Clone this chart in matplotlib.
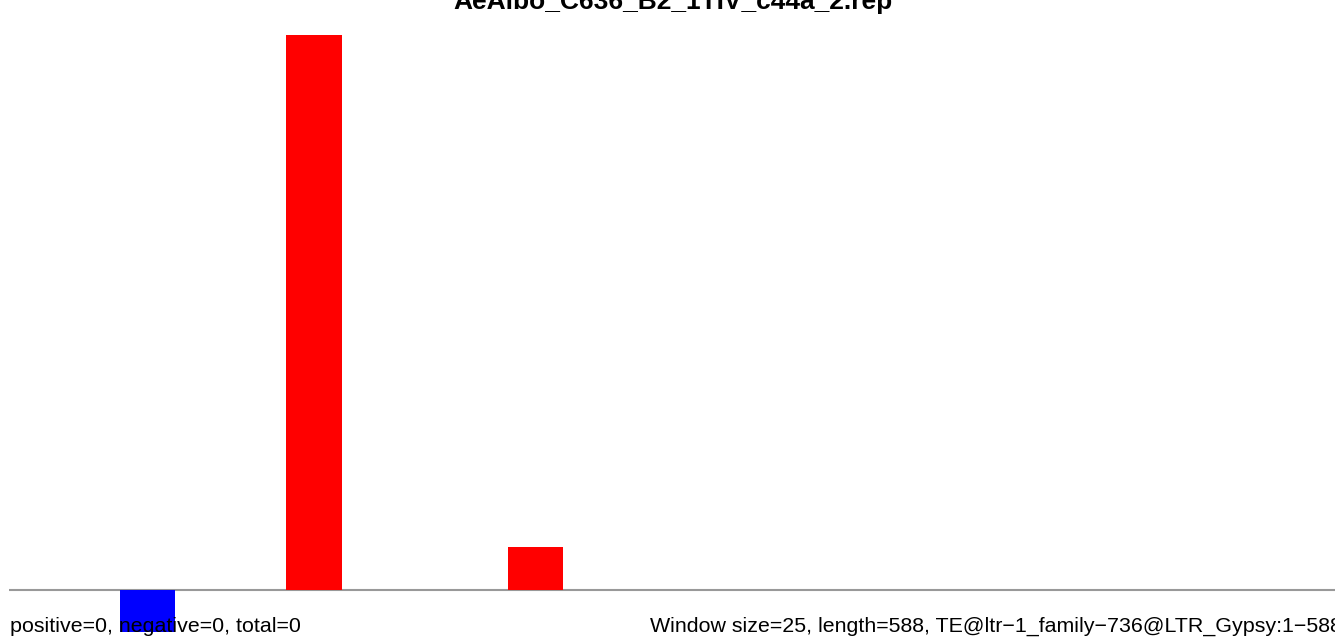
import numpy as np
import matplotlib.pyplot as plt

plt.rcParams['font.family'] = ['Liberation Sans', 'DejaVu Sans']

title = "AeAlbo_C636_B2_1TIV_c44a_2.rep"
left_note = "positive=0, negative=0, total=0"
right_note = "Window size=25, length=588, TE@ltr\u22121_family\u2212736@LTR_Gypsy:1\u2212588"

# one value per 25bp window (588 / 25 -> 24 windows)
window_values = [0, 0, -1, 0, 0, 13, 0, 0, 0, 1, 0, 0,
                 0, 0, 0, 0, 0, 0, 0, 0, 0, 0, 0, 0]

W, H = 1335, 639
fig = plt.figure(figsize=(W / 100, H / 100), dpi=100)

# axes placed in pixel coordinates of the reference
x0, x1 = 9, 9 + 24 * 55.43
y_top, y_bot = 35, 632.2
ax = fig.add_axes([x0 / W, (H - y_bot) / H, (x1 - x0) / W, (y_bot - y_top) / H])

vals = np.array(window_values)
idx = np.arange(len(vals))
colors = np.where(vals < 0, 'blue', 'red')
ax.bar(idx, vals, width=1.0, align='edge', color=colors, linewidth=0)
ax.axhline(0, color='#999999', lw=1.5, zorder=0)

ax.set_xlim(0, len(vals))
ax.set_ylim(-1, 13)
ax.axis('off')

fig.text(673 / W, 1 - 9 / H, title, ha='center', va='baseline',
         fontsize=19, fontweight='bold')
fig.text(10 / W, 1 - 632 / H, left_note, ha='left', va='baseline', fontsize=15.4)
fig.text(650 / W, 1 - 632 / H, right_note, ha='left', va='baseline', fontsize=15.4)

fig.savefig('out.png', dpi=100)
